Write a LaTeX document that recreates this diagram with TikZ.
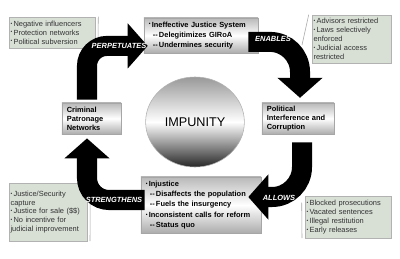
\documentclass[tikz,border=0pt]{standalone}
\usepackage{fontspec}
\setmainfont{Liberation Sans}
\usetikzlibrary{arrows.meta,shapes.geometric}

\definecolor{notegreen}{RGB}{216,224,214}
\newcommand{\bul}{\raisebox{.3ex}{\fontsize{3.5}{4}\selectfont\textbullet}\,}
\newcommand{\sub}{\hspace*{0.1cm}-{}-\,}

\begin{document}
\begin{tikzpicture}[
  x=0.025cm, y=0.025cm,
  box/.style={draw=gray!70, top color=gray!55, bottom color=gray!65, middle color=white,
              inner xsep=0.12cm, inner ysep=2pt, align=left,
              font=\fontsize{5.3}{7.3}\selectfont\bfseries},
  smallbox/.style={box, font=\fontsize{5.3}{6.4}\selectfont\bfseries},
  note/.style={draw=gray!60, fill=notegreen, inner xsep=0.04cm, inner ysep=1pt, align=left,
               font=\fontsize{5.3}{6.3}\selectfont, text=black!80},
  callout/.style={gray!70, thin},
  bigarr/.style={line width=0.5cm, -{Triangle[length=0.5cm,width=1.1cm]}},
  lbl/.style={text=white, font=\fontsize{5.3}{6}\selectfont\bfseries\itshape},
]
\useasboundingbox (0,0) rectangle (400,258);

% ===== Notes =====
\node[note, text width=2.07cm, minimum height=0.775cm] (infl) at (52,225.5)
  {\bul Negative influencers\\\bul Protection networks\\\bul Political subversion};
\node[note, text width=1.895cm, minimum height=1.2cm] (advis) at (351.5,219)
  {\bul Advisors restricted\\\bul Laws selectively\\enforced\\\bul Judicial access\\restricted};
\node[note, text width=1.87cm, minimum height=1.45cm] (capt) at (48,46)
  {\bul Justice/Security\\capture\\\bul Justice for sale (\$\$)\\\bul No incentive for\\judicial improvement};
\node[note, text width=2.07cm, minimum height=1.05cm] (block) at (348,41)
  {\bul Blocked prosecutions\\\bul Vacated sentences\\\bul Illegal restitution\\\bul Early releases};

\coordinate (inflpt) at (98,215);
\coordinate (advispt) at (302,213);
\coordinate (captpt) at (90,17);
\coordinate (blockpt) at (302,20);
\draw[callout] ([xshift=0.075cm]infl.north east) -- (inflpt);
\draw[callout] ([xshift=-0.075cm]advis.north west) -- (advispt);
\draw[callout] ([xshift=0.075cm]capt.north east) -- (captpt);
\draw[callout] ([xshift=-0.075cm,yshift=-0.175cm]block.north west) -- (blockpt);

% ===== Cycle boxes =====
\node[box, text width=2.61cm, minimum height=0.875cm] (sys) at (201,222.5)
  {\bul Ineffective Justice System\\\sub Delegitimizes GIRoA\\\sub Undermines security};
\node[smallbox, text width=1.235cm, minimum height=0.78cm] (crim) at (91.5,139.5)
  {Criminal\\Patronage\\Networks};
\node[smallbox, text width=1.56cm, minimum height=0.78cm] (pol) at (298,139.5)
  {Political\\Interference and\\Corruption};
\node[box, text width=2.76cm, minimum height=1.4cm] (inj) at (201,53)
  {\bul Injustice\\\sub Disaffects the population\\\sub Fuels the insurgency\\
   \bul Inconsistent calls for reform\\\sub Status quo};

% ===== Centre =====
\node[ellipse, draw=gray!60, top color=gray!80, bottom color=black!85, middle color=white,
      minimum width=2.4cm, minimum height=2.25cm, font=\fontsize{9}{10}\selectfont] (imp)
  at (195,136) {IMPUNITY};

% ===== Block arrows =====
\draw[bigarr, rounded corners=0.5cm] ([xshift=-0.1125cm,yshift=0.075cm]crim.north)
  |- ([xshift=0.1cm,yshift=-0.26cm]sys.west);
\draw[bigarr, rounded corners=0.75cm] ([xshift=-0.25cm,yshift=-0.16cm]sys.east)
  -| ([xshift=0.05cm,yshift=0.12cm]pol.north);
\draw[bigarr, rounded corners=0.75cm] ([xshift=0.1cm,yshift=-0.2cm]pol.south)
  |- ([xshift=-0.325cm,yshift=0.2cm]inj.east);
\draw[bigarr, rounded corners=0.55cm] ([xshift=0.1cm,yshift=0.125cm]inj.west)
  -| ([xshift=-0.1125cm,yshift=-0.1cm]crim.south);

\node[lbl] (perplbl) at (119,212) {PERPETUATES};
\node[lbl] (enablbl) at (273,219) {ENABLES};
\node[lbl] (allowlbl) at (279,60) {ALLOWS};
\node[lbl] (strenlbl) at (114,58) {STRENGTHENS};

\end{tikzpicture}
\end{document}
